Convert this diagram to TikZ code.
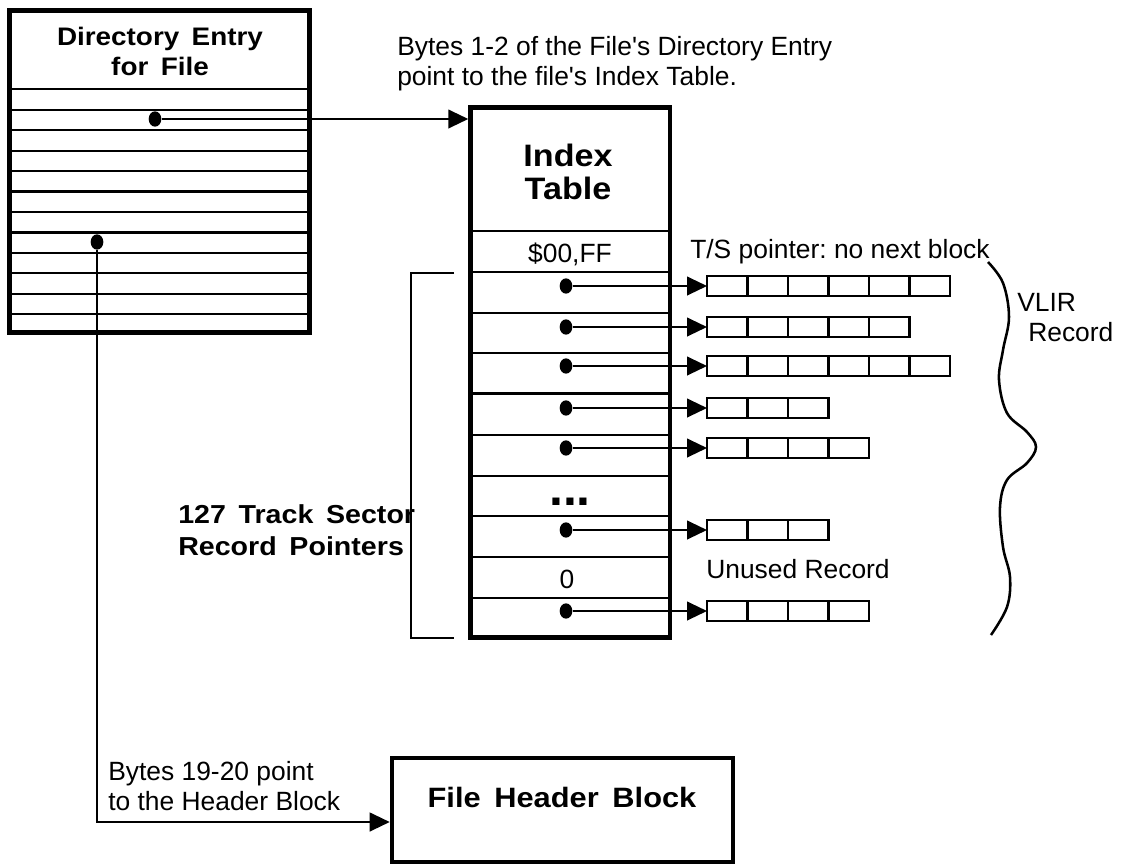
\documentclass[tikz,border=0pt]{standalone}
\usepackage{fontspec}
\setmainfont{Liberation Sans}
\newfontfamily\widesans{Liberation Sans}[FakeStretch=1.1,WordSpace=1.6]
\usepackage{tikz}
\usetikzlibrary{positioning}
\usetikzlibrary{arrows.meta}
\usetikzlibrary{shapes.geometric}
\pgfdeclarelayer{nodelayer}
\pgfdeclarelayer{edgelayer}
\pgfsetlayers{nodelayer,edgelayer,main}
\frenchspacing

\tikzset{
  thick box/.style={draw, rectangle, line width=3.4pt, inner sep=0pt},
  record/.style={draw, rectangle, line width=2.2pt, anchor=west, outer sep=0pt, minimum height=15pt, inner sep=0pt},
  ptr dot/.style={ellipse, fill, inner sep=0pt, minimum width=9.5pt, minimum height=11.5pt},
  ptr/.style={line width=1.6pt, -{Triangle[length=15pt,width=14pt]}},
  rule/.style={line width=1.6pt},
  plain text/.style={inner sep=0pt, font=\fontsize{19.8}{22.5}\selectfont},
  bold text/.style 2 args={inner sep=0pt, font=\widesans\bfseries\fontsize{#1}{#2}\selectfont},
}

\begin{document}
\begin{tikzpicture}[x=0.75pt, y=-0.75pt]
  \useasboundingbox (0, 0) rectangle (1121, 864);
  \begin{pgfonlayer}{nodelayer}
    \node [thick box, minimum width=225pt, minimum height=241.5pt] (dir) at (159.5, 171.5) {};
    \node [thick box, minimum width=149.6pt, minimum height=397.5pt] (tbl) at (570.25, 372.5) {};
    \node [thick box, minimum width=255.75pt, minimum height=78pt] (hdr) at (562.5, 810) {};

    \node [bold text={19}{22.5}, anchor=north, align=center] (dirtitle) at (160, 27) {Directory Entry\\for File};
    \node [bold text={23.25}{24.75}, anchor=north, align=center] (tbltitle) at (568, 144) {Index\\Table};
    \node [bold text={21}{24}, anchor=base] (hdrtitle) at (562, 807) {File Header Block};
    \node [bold text={19.5}{24}, anchor=north west, align=left] (count) at (178, 504) {127 Track Sector\\Record Pointers};

    \node [plain text, anchor=north west, align=left] (bytes12) at (397, 36) {Bytes 1-2 of the File\textquotesingle s Directory Entry\\point to the file\textquotesingle s Index Table.};
    \node [plain text, anchor=north west, align=left] (bytes19) at (108, 761) {Bytes 19-20 point\\to the Header Block};
    \node [plain text, anchor=base] (nolink) at (570, 262) {\$00,FF};
    \node [plain text, anchor=base west] (tslabel) at (690, 258) {T/S pointer: no next block};
    \node [plain text, anchor=north west, align=left] (vlir) at (1017, 293) {VLIR\\\hspace*{8.25pt}Record};
    \node [plain text, anchor=base] (nil) at (567, 588) {0};
    \node [plain text, anchor=base west] (unused) at (706, 578) {Unused Record};
    \node [inner sep=0pt, anchor=base, font=\bfseries\fontsize{37.5}{40}\selectfont] (gap) at (570, 505) {...};

    \node [ptr dot] (d1) at (155, 119) {};
    \node [ptr dot] (d2) at (97, 242) {};
    \foreach \r/\y/\n in {1/286/6, 2/327/5, 3/366/6, 4/408/3, 5/448/4, 7/530/3, 9/611/4} {
      \node [ptr dot] (p\r) at (566, \y) {};
      \node [record, minimum width=\n*30.375pt] (r\r) at (707, \y) {};
    }
  \end{pgfonlayer}
  \begin{pgfonlayer}{edgelayer}
    % directory entry rows
    \foreach \k in {0,...,11}
      \draw [rule] (9.5, 89.3+20.45*\k) -- (309.5, 89.3+20.45*\k);
    % index table rows
    \foreach \y in {231, 272, 313, 353, 393.5, 435, 476, 516, 557, 598}
      \draw [rule, line width=2pt] (470.5, \y) -- (670, \y);
    % record cells
    \foreach \r/\n in {1/6, 2/5, 3/6, 4/3, 5/4, 7/3, 9/4}
      \foreach \k in {2,...,\n}
        \draw [rule, line width=1.9pt] ([xshift={(\k-1)*30.375pt}]r\r.north west) -- ([xshift={(\k-1)*30.375pt}]r\r.south west);
    \foreach \r in {1, 2, 3, 4, 5, 7, 9}
      \draw [ptr] (p\r) -- (r\r);

    \draw [ptr] (d1) -- (d1 -| tbl.west);
    \draw [ptr] (d2) |- ([yshift=-9pt]hdr.west);

    \draw [line width=1.9pt] (454, 273) -- (411, 273) -- (411, 638) -- (454, 638);
    \draw [line width=1.9pt] plot [smooth, tension=0.6] coordinates {(988, 262) (1003, 283) (1009, 317) (1003, 350) (999, 380) (1007, 413) (1027, 432) (1036, 447) (1027, 463) (1007, 480) (1000, 507) (1003, 547) (1010, 577) (1007, 607) (991, 635)};
  \end{pgfonlayer}
\end{tikzpicture}
\end{document}
